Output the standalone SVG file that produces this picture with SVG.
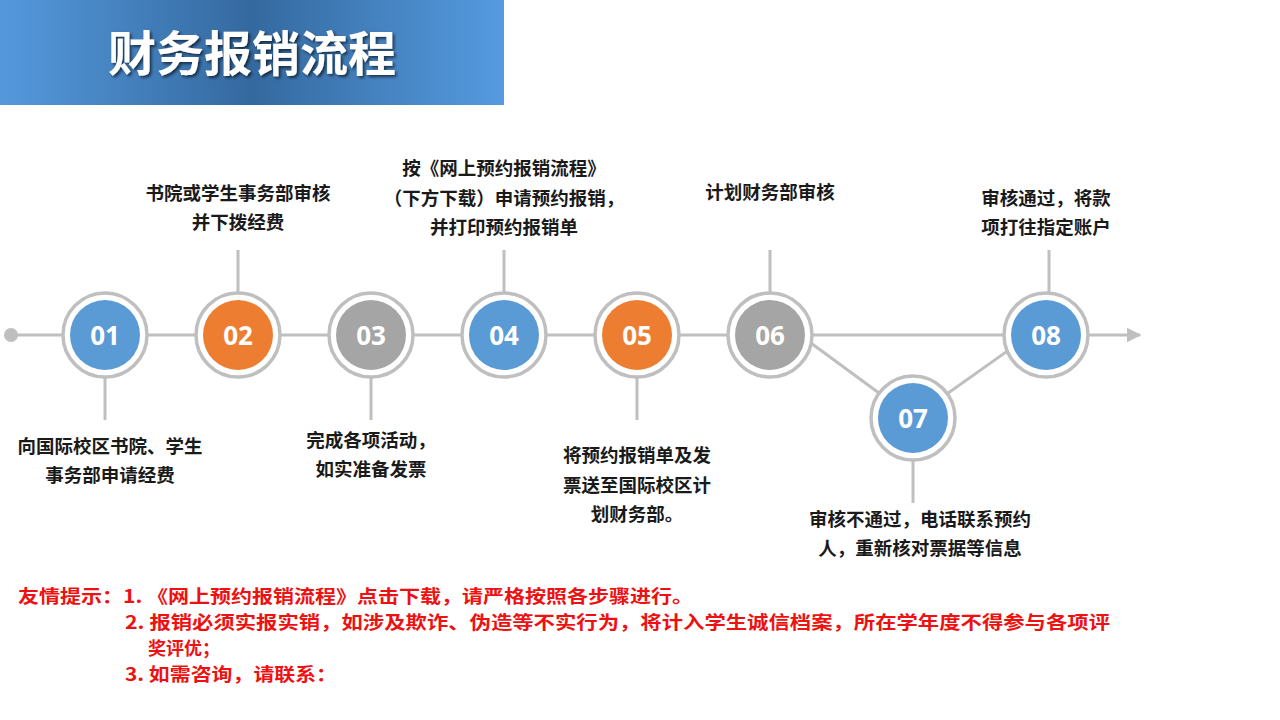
<svg xmlns="http://www.w3.org/2000/svg" width="1280" height="720" viewBox="0 0 1280 720">
<defs>
<linearGradient id="tg" x1="0" x2="1" y1="0" y2="0">
<stop offset="0" stop-color="#5599dd"/><stop offset="0.5" stop-color="#34699f"/><stop offset="1" stop-color="#559be0"/>
</linearGradient>
<marker id="arr" viewBox="0 0 10 10" refX="9" refY="5" markerWidth="5" markerHeight="5" orient="auto"><path d="M0,0 L10,5 L0,10 z" fill="#bfbfbf"/></marker>
<filter id="sh"><feDropShadow dx="2" dy="2" stdDeviation="1.5" flood-color="#000" flood-opacity="0.6"/></filter>
</defs>
<style>
text{font-family:"Noto Sans CJK SC","Liberation Sans",sans-serif;font-weight:bold}
.lb{font-size:18.5px;fill:#1a1a1a;text-anchor:middle}
.num{font-size:26px;fill:#fff;text-anchor:middle;font-family:"Open Sans","Liberation Sans",sans-serif}
.ring{fill:#fff;stroke:#bfbfbf;stroke-width:3.5}
.ln{stroke:#bfbfbf;stroke-width:3;fill:none}
.tip{font-size:18px;fill:#ee1111}
</style>
<rect x="0" y="0" width="504" height="105" fill="url(#tg)"/>
<text x="252" y="71" font-size="48" fill="#fff" text-anchor="middle" filter="url(#sh)">财务报销流程</text>
<g id="connectors">
<circle cx="11" cy="335" r="7" fill="#bfbfbf"/>
<line class="ln" x1="11" y1="335" x2="1140" y2="335" marker-end="url(#arr)"/>
<line class="ln" x1="800" y1="335" x2="913" y2="418"/>
<line class="ln" x1="913" y1="418" x2="1030" y2="335"/>
<line class="ln" x1="105" y1="377" x2="105" y2="420"/>
<line class="ln" x1="238" y1="250" x2="238" y2="293"/>
<line class="ln" x1="371" y1="377" x2="371" y2="420"/>
<line class="ln" x1="504" y1="250" x2="504" y2="293"/>
<line class="ln" x1="637" y1="377" x2="637" y2="420"/>
<line class="ln" x1="770" y1="250" x2="770" y2="293"/>
<line class="ln" x1="913" y1="460" x2="913" y2="503"/>
<line class="ln" x1="1049" y1="250" x2="1049" y2="293"/>
</g>
<g id="n01"><circle class="ring" cx="105" cy="335" r="42"/><circle cx="105" cy="335" r="35" fill="#5b9bd5"/><text class="num" x="105" y="345">01</text>
<text class="lb" x="110" y="453">向国际校区书院、学生</text><text class="lb" x="110" y="482">事务部申请经费</text></g>
<g id="n02"><circle class="ring" cx="238" cy="335" r="42"/><circle cx="238" cy="335" r="35" fill="#ed7d31"/><text class="num" x="238" y="345">02</text>
<text class="lb" x="238" y="200">书院或学生事务部审核</text><text class="lb" x="238" y="229">并下拨经费</text></g>
<g id="n03"><circle class="ring" cx="371" cy="335" r="42"/><circle cx="371" cy="335" r="35" fill="#a5a5a5"/><text class="num" x="371" y="345">03</text>
<text class="lb" x="371" y="447">完成各项活动，</text><text class="lb" x="371" y="476">如实准备发票</text></g>
<g id="n04"><circle class="ring" cx="504" cy="335" r="42"/><circle cx="504" cy="335" r="35" fill="#5b9bd5"/><text class="num" x="504" y="345">04</text>
<text class="lb" x="504" y="175">按《网上预约报销流程》</text><text class="lb" x="504" y="205">（下方下载）申请预约报销，</text><text class="lb" x="504" y="234">并打印预约报销单</text></g>
<g id="n05"><circle class="ring" cx="637" cy="335" r="42"/><circle cx="637" cy="335" r="35" fill="#ed7d31"/><text class="num" x="637" y="345">05</text>
<text class="lb" x="637" y="462">将预约报销单及发</text><text class="lb" x="637" y="492">票送至国际校区计</text><text class="lb" x="637" y="521">划财务部。</text></g>
<g id="n06"><circle class="ring" cx="770" cy="335" r="42"/><circle cx="770" cy="335" r="35" fill="#a5a5a5"/><text class="num" x="770" y="345">06</text>
<text class="lb" x="770" y="199">计划财务部审核</text></g>
<g id="n07"><circle class="ring" cx="913" cy="418" r="42"/><circle cx="913" cy="418" r="35" fill="#5b9bd5"/><text class="num" x="913" y="428">07</text>
<text class="lb" x="920" y="526">审核不通过，电话联系预约</text><text class="lb" x="920" y="555">人，重新核对票据等信息</text></g>
<g id="n08"><circle class="ring" cx="1046" cy="335" r="42"/><circle cx="1046" cy="335" r="35" fill="#5b9bd5"/><text class="num" x="1046" y="345">08</text>
<text class="lb" x="1046" y="205">审核通过，将款</text><text class="lb" x="1046" y="234">项打往指定账户</text></g>
<g id="tips">
<text class="tip" x="18" y="603" textLength="675" lengthAdjust="spacingAndGlyphs">友情提示：1. 《网上预约报销流程》点击下载，请严格按照各步骤进行。</text>
<text class="tip" x="125" y="629" textLength="985" lengthAdjust="spacingAndGlyphs">2. 报销必须实报实销，如涉及欺诈、伪造等不实行为，将计入学生诚信档案，所在学年度不得参与各项评</text>
<text class="tip" x="148" y="655">奖评优；</text>
<text class="tip" x="125" y="681" textLength="212" lengthAdjust="spacingAndGlyphs">3. 如需咨询，请联系：</text>
</g>
</svg>
